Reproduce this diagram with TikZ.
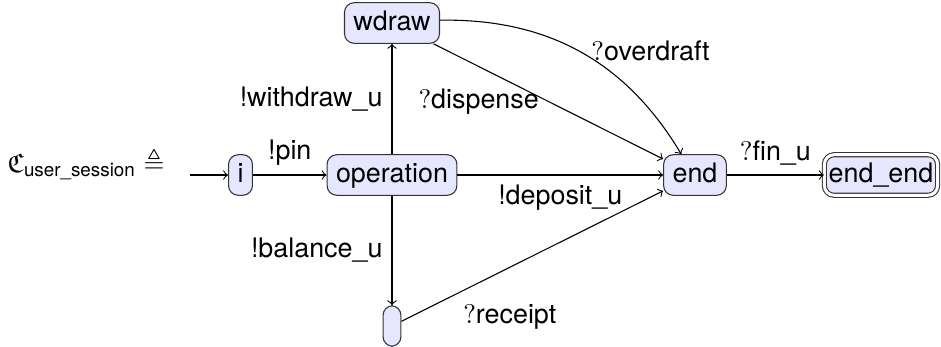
\documentclass[tikz,border=0pt]{standalone}
\usepackage{amsmath,amssymb}
\usepackage[no-math]{fontspec}
\setmainfont{TeX Gyre Heros}
\usetikzlibrary{arrows}
\definecolor{stfill}{RGB}{230,230,255}
\begin{document}
\begin{tikzpicture}[x=0.372pt,y=0.372pt,
  state/.style={draw=black!80, fill=stfill, rounded corners=3.6pt, line width=0.4pt,
    text height=7.2pt, text depth=1.9pt, inner xsep=3.33pt, inner ysep=3pt, font=\fontsize{10pt}{12pt}\selectfont},
  final/.style={state, double=white, double distance=1.1pt, inner xsep=1.6pt},
  edge/.style={->, line width=0.4pt},
  lbl/.style={font=\fontsize{10pt}{12pt}\selectfont, inner sep=3.33pt}]
\useasboundingbox (0,0) rectangle (941,-347);
\node[anchor=base west, inner sep=0pt, font=\fontsize{10pt}{12pt}\selectfont] (eq) at (7,-172)
  {$\mathfrak{C}_{\text{user\_session}}\triangleq$};
\coordinate (start) at (190,-175);
\node[state] (i) at (240.5,-175) {i};
\node[state] (op) at (392,-175) {operation};
\node[state] (wd) at (392,-23) {wdraw};
\node[state] (en) at (695,-175) {end};
\node[final] (ee) at (881,-175) {end\_end};
\node[state] (bt) at (392,-326) {};
\draw[edge] (start) -- (i);
\draw[edge] (i) -- node[lbl, above] {!pin} (op);
\draw[edge] (op) -- node[lbl, left] {!withdraw\_u} (wd);
\draw[edge] (op) -- node[lbl, left] {!balance\_u} (bt);
\draw[edge] (op) -- node[lbl, below] {!deposit\_u} (en);
\draw[edge] (wd) -- node[lbl, left] {\(?\)dispense} (en);
\draw[edge] (wd) to[bend left=30] node[lbl, pos=0.6, anchor=south west, xshift=-8pt, yshift=-1.6pt] {\(?\)overdraft} (en);
\draw[edge] (bt) -- node[lbl, pos=0.2, anchor=north west] {\(?\)receipt} (en);
\draw[edge] (en) -- node[lbl, above] {\(?\)fin\_u} (ee);
\end{tikzpicture}
\end{document}
